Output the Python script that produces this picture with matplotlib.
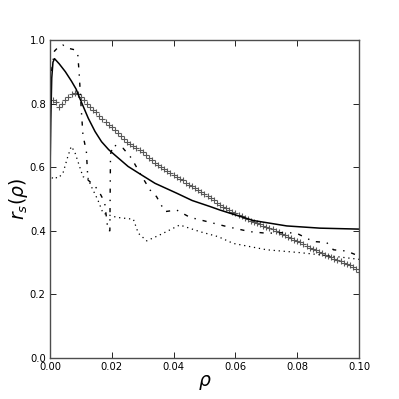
import numpy as np
import matplotlib
matplotlib.use("Agg")
import matplotlib.pyplot as plt

# solid curve
rho_solid = [0.0, 0.0003, 0.0006, 0.001, 0.0015, 0.003, 0.005, 0.007, 0.0085, 0.0096,
             0.0124, 0.0146, 0.0167, 0.019, 0.021, 0.0253, 0.0297, 0.034, 0.041, 0.046,
             0.0518, 0.055, 0.0576, 0.0658, 0.0766, 0.0874, 0.1]
rs_solid = [0.55, 0.75, 0.88, 0.93, 0.941, 0.925, 0.90, 0.87, 0.845, 0.818,
            0.754, 0.712, 0.680, 0.655, 0.638, 0.602, 0.575, 0.549, 0.518, 0.495,
            0.476, 0.465, 0.457, 0.432, 0.415, 0.408, 0.405]

# dash-dot curve
rho_dashdot = [0.0, 0.0005, 0.0015, 0.003, 0.0042, 0.0058, 0.008, 0.009, 0.0095, 0.0101,
               0.0107, 0.0118, 0.0123, 0.0155, 0.0177, 0.0188, 0.0194, 0.0196, 0.0205, 0.0237,
               0.0264, 0.0291, 0.0324, 0.0345, 0.0372, 0.041, 0.0453, 0.0507, 0.0572, 0.0647,
               0.0701, 0.0766, 0.0798, 0.0852, 0.0895, 0.0917, 0.096, 0.1]
rs_dashdot = [0.78, 0.90, 0.965, 0.98, 0.984, 0.974, 0.969, 0.958, 0.89, 0.79,
              0.70, 0.65, 0.56, 0.53, 0.49, 0.40, 0.40, 0.64, 0.67, 0.659,
              0.628, 0.581, 0.528, 0.507, 0.46, 0.465, 0.442, 0.429, 0.413, 0.397,
              0.392, 0.394, 0.392, 0.366, 0.363, 0.34, 0.336, 0.32]

# dotted curve
rho_dotted = [0.0, 0.001, 0.0026, 0.0042, 0.0058, 0.0069, 0.008, 0.0096, 0.0107, 0.0123,
              0.0134, 0.0155, 0.0172, 0.0216, 0.027, 0.0286, 0.0313, 0.0356, 0.042, 0.0485,
              0.0545, 0.0593, 0.0701, 0.0809, 0.0906, 0.1]
rs_dotted = [0.55, 0.57, 0.565, 0.58, 0.633, 0.665, 0.649, 0.602, 0.57, 0.565,
             0.539, 0.497, 0.455, 0.442, 0.436, 0.392, 0.368, 0.387, 0.418, 0.397,
             0.381, 0.36, 0.34, 0.331, 0.321, 0.31]

# crosses, one every 0.001
rho_cross = np.arange(1, 101) / 1000.0
rs_cross = [0.81, 0.805, 0.79, 0.80, 0.81, 0.82, 0.83, 0.833, 0.83, 0.82,
            0.812, 0.80, 0.79, 0.78, 0.772, 0.762, 0.752, 0.742, 0.733, 0.725,
            0.716, 0.707, 0.697, 0.688, 0.68, 0.673, 0.666, 0.66, 0.653, 0.646,
            0.638, 0.63, 0.622, 0.614, 0.607, 0.60, 0.594, 0.588, 0.582, 0.576,
            0.57, 0.564, 0.558, 0.551, 0.545, 0.539, 0.533, 0.527, 0.521, 0.515,
            0.508, 0.502, 0.495, 0.488, 0.482, 0.476, 0.471, 0.466, 0.46, 0.455,
            0.45, 0.446, 0.441, 0.437, 0.432, 0.428, 0.424, 0.42, 0.416, 0.412,
            0.408, 0.404, 0.399, 0.395, 0.39, 0.386, 0.381, 0.377, 0.372, 0.368,
            0.363, 0.357, 0.352, 0.347, 0.342, 0.338, 0.333, 0.329, 0.324, 0.32,
            0.316, 0.312, 0.308, 0.304, 0.30, 0.296, 0.292, 0.287, 0.28, 0.27]

fig = plt.figure(figsize=(3.99, 3.99), dpi=100)
ax = fig.add_axes([0.125, 0.103, 0.775, 0.797])

ax.plot(rho_cross, rs_cross, linestyle="none", marker="+", markersize=5,
        markeredgewidth=0.8, color="0.35")
ax.plot(rho_solid, rs_solid, "-", color="black", lw=1.1)
ax.plot(rho_dashdot, rs_dashdot, color="black", lw=1.0, dashes=(3, 5, 1, 5))
ax.plot(rho_dotted, rs_dotted, color="black", lw=0.9, dashes=(1, 3))

ax.set_xlim(0, 0.1)
ax.set_ylim(0, 1.0)
ax.set_xticks([0.0, 0.02, 0.04, 0.06, 0.08, 0.10])
ax.set_yticks([0.0, 0.2, 0.4, 0.6, 0.8, 1.0])
ax.tick_params(direction="in", top=True, right=True, length=4, width=0.6,
               labelsize=7.2, pad=3)
for s in ax.spines.values():
    s.set_linewidth(1.0)
    s.set_color("0.3")

ax.set_xlabel(r"$\rho$", fontsize=13.5, labelpad=1)
ax.set_ylabel(r"$r_s(\rho)$", fontsize=13.5, labelpad=0)

fig.savefig("out.png", dpi=100)
